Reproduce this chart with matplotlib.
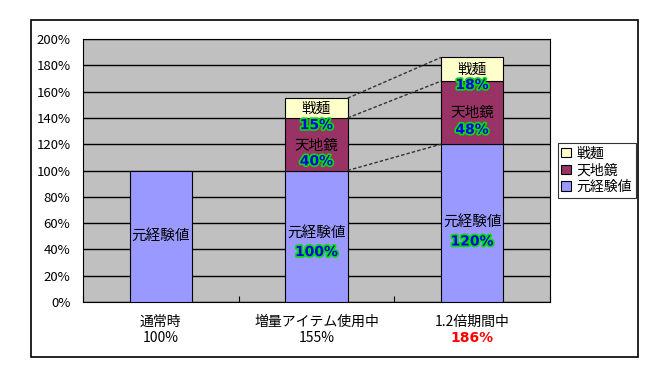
import matplotlib.pyplot as plt
import matplotlib.patheffects as pe
from matplotlib.patches import Rectangle
import matplotlib.transforms as mtransforms

plt.rcParams['font.family'] = ['Noto Sans CJK JP', 'DejaVu Sans']

categories = ['通常時', '増量アイテム使用中', '1.2倍期間中']
totals = ['100%', '155%', '186%']
base = [100, 100, 120]
tenchi = [0, 40, 48]
senmen = [0, 15, 18]
legend_names = ['元経験値', '天地鏡', '戦麺']

c_base = '#9999FF'
c_tenchi = '#993366'
c_senmen = '#FFFFCC'

fig = plt.figure(figsize=(6.7, 3.77), dpi=100)
fig.patch.set_facecolor('white')
# outer chart border
fig.patches.append(Rectangle((31 / 670, 20 / 377), 607 / 670, 337 / 377,
                             transform=fig.transFigure, fill=False,
                             edgecolor='black', linewidth=1.2))

ax = fig.add_axes([83 / 670, 75 / 377, 467 / 670, 263 / 377])
ax.set_facecolor('#C0C0C0')

x = list(range(len(categories)))
w = 0.4
b2 = [b + t for b, t in zip(base, tenchi)]
ax.bar(x, base, w, color=c_base, edgecolor='black', linewidth=0.8, zorder=3,
       label=legend_names[0])
ax.bar(x[1:], tenchi[1:], w, bottom=base[1:], color=c_tenchi,
       edgecolor='black', linewidth=0.8, zorder=3, label=legend_names[1])
ax.bar(x[1:], senmen[1:], w, bottom=b2[1:], color=c_senmen,
       edgecolor='black', linewidth=0.8, zorder=3, label=legend_names[2])

# series lines between stacked bars
for lo, hi in [(base[1], base[2]), (b2[1], b2[2]),
               (b2[1] + senmen[1], b2[2] + senmen[2])]:
    ax.plot([1 + w / 2, 2 - w / 2], [lo, hi], color='#333333',
            linestyle=(0, (2.5, 1.5)), linewidth=1, zorder=4)

ax.set_xlim(-0.5, 2.5)
ax.set_ylim(0, 200)
ax.set_yticks(range(0, 201, 20))
ax.set_yticklabels([f'{v}%' for v in range(0, 201, 20)], fontsize=9.5)
ax.tick_params(axis='y', length=0, pad=9)
ax.set_xticks([-0.5, 0.5, 1.5, 2.5])
ax.set_xticklabels([])
ax.tick_params(axis='x', direction='in', length=4)
ax.grid(axis='y', color='black', linewidth=1, zorder=1)
for s in ax.spines.values():
    s.set_color('black')
    s.set_linewidth(0.8)

glow = [pe.withStroke(linewidth=2.4, foreground='#00E000')]
pct_kw = dict(ha='center', va='center', fontsize=10, fontweight='bold',
              family='DejaVu Sans', color='#0000F0', path_effects=glow,
              zorder=5)
name_kw = dict(ha='center', va='center', fontsize=10.5, color='black',
               zorder=5)

# labels inside bars
ax.text(0, 50, '元経験値', **name_kw)
ax.text(1, 53, '元経験値', **name_kw)
ax.text(1, 38, f'{base[1]}%', **pct_kw)
ax.text(2, 61, '元経験値', **name_kw)
ax.text(2, 46, f'{base[2]}%', **pct_kw)
ax.text(1, 119, '天地鏡', **name_kw)
ax.text(1, 107, f'{tenchi[1]}%', **pct_kw)
ax.text(2, 143.5, '天地鏡', **name_kw)
ax.text(2, 131, f'{tenchi[2]}%', **pct_kw)
ax.text(1, 147, '戦麺', **name_kw)
ax.text(1, 134.5, f'{senmen[1]}%', **pct_kw)
ax.text(2, 177, '戦麺', **name_kw)
ax.text(2, 165, f'{senmen[2]}%', **pct_kw)

# category labels
trans = mtransforms.blended_transform_factory(ax.transData, ax.transAxes)
for i, (c, t) in enumerate(zip(categories, totals)):
    ax.text(i, -0.076, c, transform=trans, ha='center', va='center',
            fontsize=10)
    if i == 2:
        ax.text(i, -0.137, t, transform=trans, ha='center', va='center',
                fontsize=10, fontweight='bold', family='DejaVu Sans',
                color='#FF0000')
    else:
        ax.text(i, -0.137, t, transform=trans, ha='center', va='center',
                fontsize=10)

h, l = ax.get_legend_handles_labels()
leg = fig.legend(h[::-1], l[::-1], loc='upper left',
                 bbox_to_anchor=(558 / 670, 1 - 143 / 377),
                 fontsize=10, frameon=True, fancybox=False,
                 handlelength=0.7, handleheight=0.7, handletextpad=0.4,
                 borderpad=0.25, labelspacing=0.2, borderaxespad=0)
leg.get_frame().set_edgecolor('black')
leg.get_frame().set_linewidth(0.8)

fig.savefig('out.png', dpi=100)
